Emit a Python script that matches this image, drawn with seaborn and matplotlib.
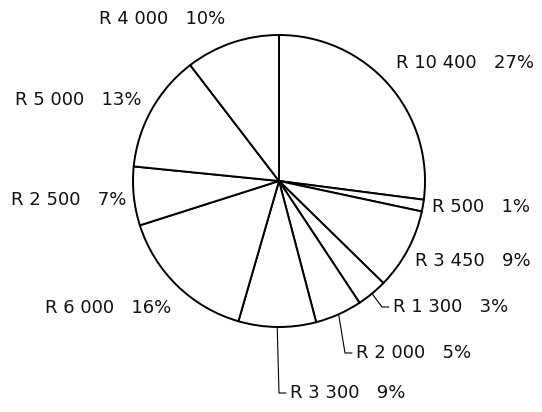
import matplotlib
matplotlib.use("Agg")
import matplotlib.pyplot as plt
import seaborn as sns
import numpy as np

sns.set_style("white")
plt.rcParams['font.family'] = ['DejaVu Sans']

# dados da pizza (em sentido horário a partir do topo)
valores = [10400, 500, 3450, 1300, 2000, 3300, 6000, 2500, 5000, 4000]
total = sum(valores)
rotulos = ['R ' + f'{v:,}'.replace(',', ' ') + '   ' + f'{round(v / total * 100)}%' for v in valores]

# posição dos rótulos em pixels (esquerda do texto, centro vertical)
pos_rotulos = [(396, 63), (432, 207), (415, 261), (393, 307), (356, 353),
               (290, 393), (45, 308), (11, 200), (15, 100), (99, 19)]
com_linha = [3, 4, 5]   # rótulos com linha de chamada

cx, cy = 279, 181   # centro da pizza em pixels
raio = 146

fig = plt.figure(figsize=(5.42, 4.12), dpi=100)
ax = fig.add_axes([0, 0, 1, 1])

wedges, _ = ax.pie(valores, radius=raio, startangle=90, counterclock=False,
                   colors=['white'] * len(valores),
                   wedgeprops=dict(edgecolor='black', linewidth=1.4))

for i, (w, txt) in enumerate(zip(wedges, rotulos)):
    px, py = pos_rotulos[i]
    x, y = px - cx, cy - py
    ax.text(x, y, txt, ha='left', va='center', fontsize=13, color='#111111')
    if i in com_linha:
        ang = np.radians((w.theta1 + w.theta2) / 2)
        x0, y0 = raio * np.cos(ang), raio * np.sin(ang)
        ax.plot([x0, x - 11, x - 4], [y0, y, y], color='black', lw=0.8)

ax.set_xlim(-cx, 542 - cx)
ax.set_ylim(-(412 - cy), cy)
ax.axis('off')

plt.savefig('out.png', dpi=100)
